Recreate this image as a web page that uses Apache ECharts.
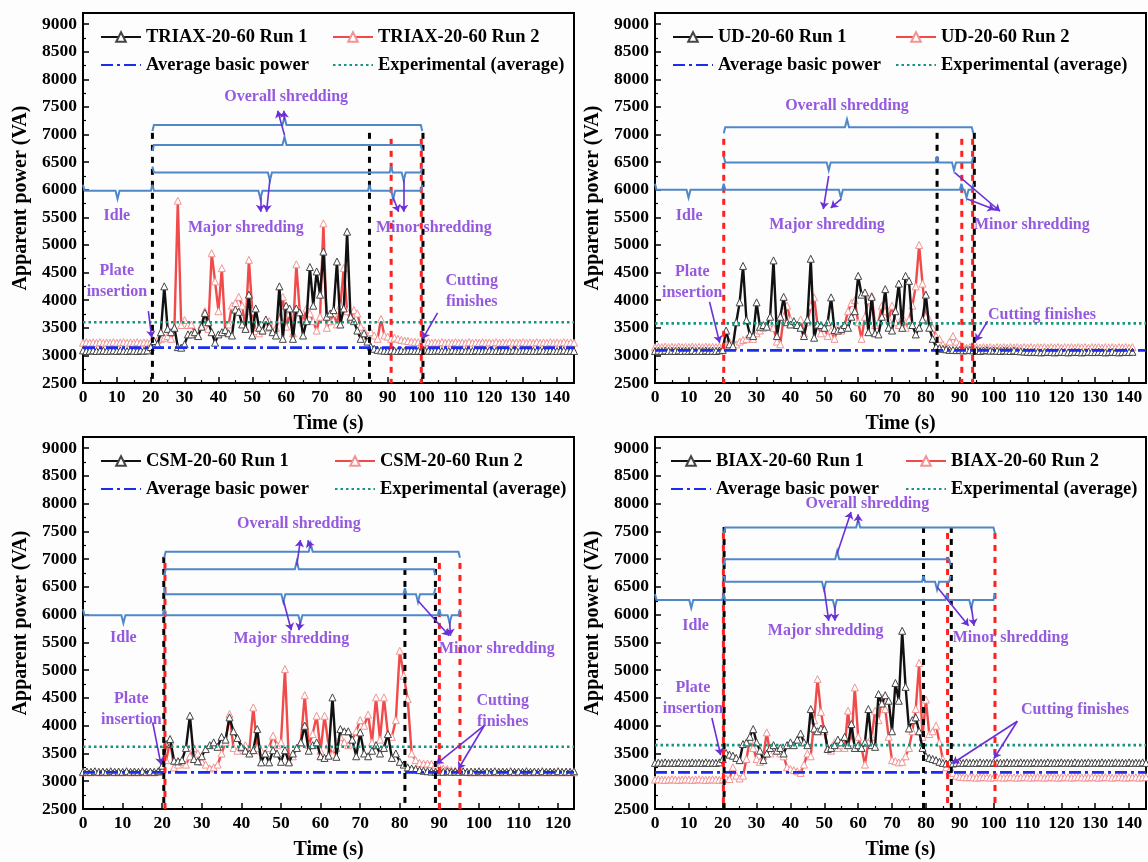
<!DOCTYPE html>
<html>
<head>
<meta charset="utf-8">
<title>Apparent power vs time</title>
<script src="https://cdn.jsdelivr.net/npm/echarts@6/dist/echarts.min.js"></script>
<style>
html, body { margin: 0; padding: 0; background: #fdfdfd; }
#chart { width: 1148px; height: 862px; }
</style>
</head>
<body>
<div id="chart"></div>
<script>
// 四个面板的测量数据（1 s 采样）
var triaxRun1 = [3090,3080,3085,3090,3080,3085,3090,3080,3085,3090,
  3080,3090,3085,3080,3090,3085,3080,3090,3085,3090,
  3150,3260,3200,3420,4250,3480,3420,3500,3150,3140,
  3200,3380,3380,3420,3350,3520,3770,3600,3420,3230,
  3380,3420,3460,3400,3360,3830,3790,3560,3480,4100,
  3360,3850,3500,3450,3650,3520,3420,3360,4250,3300,
  3900,3850,3300,3850,3780,3360,3620,4600,3900,4520,
  4100,4880,3700,3760,3820,4700,3560,3850,5240,3700,
  3620,3450,3300,3400,3250,3160,3120,3100,3090,3085,
  3080,3090,3085,3080,3090,3080,3085,3090,3080,3085,
  3080,3090,3085,3080,3085,3090,3080,3085,3080,3090,
  3085,3080,3090,3080,3085,3080,3090,3085,3080,3085,
  3090,3080,3085,3080,3090,3085,3080,3090,3085,3080,
  3085,3090,3080,3085,3080,3090,3085,3080,3090,3085,
  3080,3085,3090,3080,3085,3080];
var triaxRun2 = [3230,3240,3230,3235,3230,3240,3230,3235,3230,3240,
  3230,3235,3240,3230,3235,3230,3240,3230,3235,3230,
  3240,3260,3280,3300,3320,3350,3300,3500,5800,3550,
  3640,3550,3560,3420,3360,3550,3800,3480,4850,4340,
  3800,4580,3440,3560,3900,3950,4060,3900,3500,4730,
  3800,3440,3400,3450,3500,3620,3450,3500,3650,4060,
  3520,3760,3400,4650,3800,3600,3850,3760,3620,3450,
  3700,5390,3500,3620,3760,3560,3900,4580,3800,3650,
  3820,3760,3520,3450,3350,3420,3360,3300,3660,3360,
  3340,3300,3320,3300,3280,3270,3260,3250,3245,3240,
  3235,3230,3240,3230,3235,3230,3240,3230,3235,3230,
  3240,3230,3235,3230,3240,3230,3235,3230,3240,3230,
  3235,3230,3240,3230,3235,3230,3240,3230,3235,3230,
  3240,3230,3235,3230,3240,3230,3235,3230,3240,3230,
  3235,3230,3240,3230,3235,3230];
var udRun1 = [3080,3085,3080,3090,3080,3085,3080,3090,3080,3085,
  3080,3090,3080,3085,3080,3090,3080,3085,3080,3090,
  3100,3450,3200,3170,3600,3960,4620,3640,3380,3350,
  3960,3520,3550,3520,3700,4720,3350,3700,4060,3600,
  3560,3620,3550,3500,3350,3650,4750,3320,3560,3550,
  3500,3600,4050,3460,3450,3480,3550,3500,3700,3800,
  4440,4100,4140,3420,4060,3400,3380,3700,4200,3500,
  3450,3800,4300,3500,4440,4350,3550,3380,3500,3650,
  4100,3500,3300,3150,3130,3120,3110,3100,3100,3095,
  3100,3090,3095,3100,3090,3095,3080,3090,3095,3085,
  3090,3085,3080,3090,3085,3080,3090,3080,3075,3070,
  3065,3060,3065,3060,3055,3060,3065,3060,3055,3060,
  3065,3060,3055,3060,3065,3060,3055,3060,3065,3060,
  3060,3065,3060,3055,3060,3065,3060,3055,3060,3065,
  3060,3065];
var udRun2 = [3150,3155,3150,3160,3150,3155,3150,3160,3150,3155,
  3150,3160,3150,3155,3150,3160,3150,3155,3150,3160,
  3150,3200,3250,3150,3200,3250,3280,3300,3350,3300,
  3400,3450,3500,3550,3600,3500,3250,3200,3700,3900,
  3650,3600,3550,3650,3400,3600,3900,4050,3550,3400,
  3500,3350,3450,3300,3500,3450,3550,3800,3950,4000,
  3600,3300,3700,4000,4080,3550,3600,3900,3800,3650,
  3900,3600,3550,3700,3500,3650,3900,4250,5000,4300,
  3700,3650,3500,3350,3300,3200,3150,3250,3350,3250,
  3200,3150,3140,3150,3145,3150,3140,3150,3145,3150,
  3140,3150,3145,3150,3140,3150,3145,3150,3140,3150,
  3145,3150,3140,3150,3145,3150,3140,3150,3145,3150,
  3140,3150,3145,3150,3140,3150,3145,3150,3140,3150,
  3145,3150,3140,3150,3145,3150,3140,3150,3145,3150,
  3140,3150];
var csmRun1 = [3170,3175,3170,3180,3170,3175,3170,3180,3170,3175,
  3170,3180,3170,3175,3170,3180,3170,3175,3170,3180,
  3280,3670,3760,3370,3360,3380,3600,4180,3400,3360,
  3450,3580,3650,3700,3620,3800,3750,4150,3900,3780,
  3620,3550,3500,3560,3940,3340,3500,3340,3560,3500,
  3350,3560,3340,3500,3600,3700,4000,3550,3650,3700,
  3450,3420,3460,4510,3440,3940,3900,3900,3750,3450,
  3880,3500,3450,3550,3650,3500,3600,3850,3420,3500,
  3350,3300,3250,3230,3220,3200,3190,3180,3175,3170,
  3175,3170,3180,3170,3175,3170,3180,3170,3175,3170,
  3180,3170,3175,3170,3180,3170,3175,3170,3180,3170,
  3175,3170,3180,3170,3175,3170,3180,3170,3175,3170,
  3180,3170,3175,3170,3180];
var csmRun2 = [3160,3165,3160,3170,3160,3165,3160,3170,3160,3165,
  3160,3170,3160,3165,3160,3170,3160,3165,3160,3170,
  3200,3380,3730,3250,3300,3350,3300,3450,3600,3500,
  3350,3300,3230,3250,3300,3500,3700,4210,3600,3550,
  3600,3650,3550,4330,3600,3550,3500,3600,3820,3650,
  3700,5020,3360,3450,3600,3700,4550,3650,3850,4180,
  3550,4180,3650,3480,3600,3800,3700,3650,3750,3900,
  4100,4000,4200,3700,4510,3750,4510,3850,3800,4100,
  5350,4900,4480,3500,3380,3330,3320,3320,3310,3300,
  3250,3230,3220,3200,3190,3180,3170,3165,3160,3170,
  3160,3165,3160,3170,3160,3165,3160,3170,3160,3165,
  3160,3170,3160,3165,3160,3170,3160,3165,3160,3170,
  3160,3165,3160,3170,3160];
var biaxRun1 = [3330,3335,3330,3340,3330,3335,3330,3340,3330,3335,
  3330,3340,3330,3335,3330,3340,3330,3335,3330,3340,
  3400,3510,3480,3460,3420,3380,3670,3700,3800,3940,
  3700,3550,3380,3500,3600,3650,3550,3600,3500,3650,
  3700,3650,3750,3860,3700,3650,4300,3950,3900,3950,
  3940,3580,3600,3650,3750,3700,3800,3650,4030,3600,
  3650,3600,3700,4300,3650,3620,4570,4400,4550,4450,
  3900,4770,4450,5710,4700,3950,4100,4150,3900,3600,
  3450,3420,3400,3380,3350,3330,3320,3330,3320,3330,
  3335,3330,3340,3330,3335,3330,3340,3330,3335,3330,
  3340,3330,3335,3330,3340,3330,3335,3330,3340,3330,
  3335,3330,3340,3330,3335,3330,3340,3330,3335,3330,
  3340,3330,3335,3330,3340,3330,3335,3330,3340,3330,
  3335,3330,3340,3330,3335,3330,3340,3330,3335,3330,
  3340,3330,3335,3330,3340,3330];
var biaxRun2 = [3030,3035,3030,3025,3030,3035,3030,3025,3030,3035,
  3030,3025,3030,3035,3030,3025,3030,3035,3030,3025,
  3040,3050,3040,3250,3100,3050,3100,3400,3750,3600,
  3400,3350,3450,3880,3500,3600,3550,3500,3450,3250,
  3220,3200,3180,3150,3300,3500,3450,4100,4840,4250,
  3900,3600,3550,3700,3600,3650,3600,4270,3700,4690,
  3800,3600,3300,3700,3800,4270,4100,4500,4300,3800,
  3380,3360,3340,3350,3450,3600,3900,4300,5130,3800,
  4470,3850,3900,4000,3700,3400,3250,3200,3150,3100,
  3080,3075,3070,3075,3070,3065,3070,3075,3070,3065,
  3070,3075,3070,3065,3070,3075,3070,3065,3070,3075,
  3070,3065,3070,3075,3070,3065,3070,3075,3070,3065,
  3070,3075,3070,3065,3070,3075,3070,3065,3070,3075,
  3070,3065,3070,3075,3070,3065,3070,3075,3070,3065,
  3070,3075,3070,3065,3070,3075];

// 平均基础功率、实验平均值、坐标轴范围
var panelNames = ['TRIAX-20-60', 'UD-20-60', 'CSM-20-60', 'BIAX-20-60'];
var basicPower = [3140, 3090, 3160, 3160];
var experimentalAvg = [3600, 3580, 3620, 3650];
var xMax = [145, 145, 124, 145];
var yMin = 2500, yMax = 9200, yStep = 500, xStep = 10;

// 阶段分界竖线（虚线）
var triaxBlackCuts = [20.5, 84.6, 100.4], triaxRedCuts = [91, 99.9];
var udBlackCuts = [83.3, 94.3], udRedCuts = [20.3, 90.6, 93.8];
var csmBlackCuts = [20.4, 81.3, 89], csmRedCuts = [20.7, 90, 95.2];
var biaxBlackCuts = [20.4, 79.3, 87.5], biaxRedCuts = [20.2, 86.4, 100.4];
var cutTop = [7030, 7030, 7040, 7580];

// 括号: [起点, 终点, 高度, 中间尖角位置, 1=尖角朝下 / -1=朝上]
var triaxBraces = [[0,20.5,5980,10.2,1],[20.5,84.6,5980,52.4,1],[84.6,100.2,5980,91.6,1],
  [20.5,91,6310,55.2,1],[91,100.2,6310,94.7,1],[20.5,100.2,6810,59.5,-1],[20.5,100.2,7170,59.5,-1]];
var udBraces = [[0,20.3,6000,9.9,1],[20.3,90.5,6000,54.9,1],[90.5,94,6000,92,1],
  [20.3,83.3,6495,51.3,1],[83.3,94,6495,88.3,1],[20.3,94,7130,56.7,-1]];
var csmBraces = [[0,20.5,5990,10.2,1],[20.5,90,5990,54.9,1],[90,95.2,5990,92.6,1],
  [20.5,81.3,6370,50.6,1],[81.3,89,6370,84.6,1],[20.5,89,6820,54,-1],[20.5,95.2,7134,57.5,-1]];
var biaxBraces = [[0,20.3,6264,10.7,1],[20.3,86.2,6264,53.1,1],[86.2,100.4,6264,93.4,1],
  [20.3,79.3,6594,49.9,1],[79.3,87.3,6594,83.3,1],[20.3,87.3,7000,53.8,-1],[20.3,100.4,7570,60,-1]];

// 文字标注 [x, y, 文字]
var triaxLabels = [[60,7690,'Overall shredding'],[48.1,5308,'Major shredding'],[103.6,5308,'Minor shredding'],
  [10,5520,'Idle'],[10,4340,'Plate\ninsertion'],[114.8,4160,'Cutting\nfinishes']];
var udLabels = [[56.7,7510,'Overall shredding'],[50.8,5368,'Major shredding'],[111.3,5368,'Minor shredding'],
  [10.1,5530,'Idle'],[11,4330,'Plate\ninsertion'],[114.3,3740,'Cutting finishes']];
var csmLabels = [[54.5,7633,'Overall shredding'],[52.6,5560,'Major shredding'],[104.5,5380,'Minor shredding'],
  [10.2,5590,'Idle'],[12.2,4300,'Plate\ninsertion'],[106,4260,'Cutting\nfinishes']];
var biaxLabels = [[62.7,8000,'Overall shredding'],[50.4,5700,'Major shredding'],[105,5580,'Minor shredding'],
  [12,5800,'Idle'],[11.2,4490,'Plate\ninsertion'],[124,4290,'Cutting finishes']];

// 箭头 [x1, y1, x2, y2]
var triaxArrows = [[59.5,6990,57.5,7430],[59.5,7260,59.3,7430],[52.4,5860,52.4,5600],[55.2,6190,54.2,5600],
  [91.6,5860,93.2,5600],[94.7,6190,94.7,5600],[19.3,3800,20.3,3320],[104.7,3770,100.3,3300]];
var udArrows = [[51.3,6250,49.7,5650],[54.9,5830,51.9,5670],[88.5,6310,101.9,5610],[92.2,5830,100.3,5640],
  [16.1,3970,19.1,3230],[98.2,3620,94.7,3260]];
var csmArrows = [[54,6890,54.9,7345],[57.5,7200,56.8,7340],[50.6,6260,52.6,5720],[54.9,5880,54.5,5720],
  [84.6,6250,92.5,5620],[92.6,5880,92.8,5620],[17.6,4060,19.7,3300],[101.3,4000,89.2,3310],[101.3,4000,94.8,3220]];
var biaxArrows = [[53.8,7100,57.9,7850],[60,7650,60,7810],[49.9,6500,51.3,5890],[53.1,6160,53.1,5890],
  [83.3,6500,92.6,5800],[93.4,6160,94.2,5800],[16.8,4140,19.4,3470],[107,4080,87.8,3320],[107,4080,100.1,3410]];

var runs = [[triaxRun1, triaxRun2], [udRun1, udRun2], [csmRun1, csmRun2], [biaxRun1, biaxRun2]];
var cuts = [[triaxBlackCuts, triaxRedCuts], [udBlackCuts, udRedCuts], [csmBlackCuts, csmRedCuts], [biaxBlackCuts, biaxRedCuts]];
var braces = [triaxBraces, udBraces, csmBraces, biaxBraces];
var labels = [triaxLabels, udLabels, csmLabels, biaxLabels];
var arrows = [triaxArrows, udArrows, csmArrows, biaxArrows];

// 布局
var layout = [
  {left: 83, top: 13, width: 491, height: 370, cols: [17, 249]},
  {left: 655, top: 13, width: 491, height: 370, cols: [17, 240]},
  {left: 83, top: 437, width: 491, height: 372, cols: [17, 251]},
  {left: 655, top: 437, width: 491, height: 372, cols: [15, 250]}
];

var FONT = "'Liberation Serif', 'DejaVu Serif', serif";
var PURPLE = '#7a2fd8';

function braceItem(params, api) {
  var y = api.value(2);
  var a = api.coord([api.value(0), y]);
  var b = api.coord([api.value(1), y]);
  var n = api.coord([api.value(3), y]);
  var s = api.value(4);
  var hook = -6 * s, nub = 8 * s;
  return {
    type: 'polyline',
    shape: {points: [[a[0], a[1] + hook], [a[0] + 1.5, a[1]], [n[0] - 2, a[1]], [n[0], a[1] + nub],
      [n[0] + 2, a[1]], [b[0] - 1.5, b[1]], [b[0], b[1] + hook]]},
    style: {fill: null, stroke: '#4f87c9', lineWidth: 2}
  };
}

function cutItem(color, offset) {
  return function (params, api) {
    var top = api.coord([api.value(0), api.value(1)]);
    var bottom = api.coord([api.value(0), yMin]);
    return {
      type: 'line',
      shape: {x1: top[0], y1: top[1], x2: bottom[0], y2: bottom[1]},
      style: {stroke: color, lineWidth: 3, lineDash: [6, 6], lineDashOffset: offset}
    };
  };
}

function plainNumber(v) { return String(v); }

var option = {
  backgroundColor: '#fdfdfd',
  animation: false,
  grid: [], xAxis: [], yAxis: [], legend: [], series: []
};

for (var i = 0; i < 4; i++) {
  var L = layout[i];
  var run1Name = panelNames[i] + ' Run 1', run2Name = panelNames[i] + ' Run 2';
  option.grid.push({left: L.left, top: L.top, width: L.width, height: L.height,
    show: true, borderColor: '#000', borderWidth: 2, backgroundColor: 'transparent'});
  option.xAxis.push({
    type: 'value', gridIndex: i, min: 0, max: xMax[i], interval: xStep,
    name: 'Time (s)', nameLocation: 'middle', nameGap: 31,
    nameTextStyle: {fontFamily: FONT, fontWeight: 'bold', fontSize: 20, color: '#000'},
    axisLine: {onZero: false, lineStyle: {color: '#000', width: 2}},
    axisTick: {inside: true, length: 6, lineStyle: {color: '#000', width: 1.5}},
    minorTick: {show: true, splitNumber: 2, length: 3, lineStyle: {color: '#000', width: 1.2}},
    splitLine: {show: false},
    axisLabel: {fontFamily: FONT, fontWeight: 'bold', fontSize: 17.5, color: '#000', margin: 5,
      showMaxLabel: false, formatter: plainNumber}
  });
  option.yAxis.push({
    type: 'value', gridIndex: i, min: yMin, max: yMax, interval: yStep,
    name: 'Apparent power (VA)', nameLocation: 'middle', nameGap: 52,
    nameTextStyle: {fontFamily: FONT, fontWeight: 'bold', fontSize: 20, color: '#000'},
    axisLine: {lineStyle: {color: '#000', width: 2}},
    axisTick: {inside: true, length: 6, lineStyle: {color: '#000', width: 1.5}},
    minorTick: {show: true, splitNumber: 2, length: 3, lineStyle: {color: '#000', width: 1.2}},
    splitLine: {show: false},
    axisLabel: {fontFamily: FONT, fontWeight: 'bold', fontSize: 17.5, color: '#000', margin: 6,
      showMaxLabel: false, formatter: plainNumber}
  });

  var legendBase = {
    orient: 'vertical', top: L.top + 14, itemWidth: 40, itemHeight: 12, itemGap: 8, padding: 0,
    selectedMode: false,
    textStyle: {fontFamily: FONT, fontWeight: 'bold', fontSize: 18.5, color: '#000', lineHeight: 20}
  };
  option.legend.push(Object.assign({}, legendBase, {left: L.left + L.cols[0],
    data: [run1Name, {name: 'Average basic power', itemStyle: {opacity: 0}}]}));
  option.legend.push(Object.assign({}, legendBase, {left: L.left + L.cols[1],
    data: [run2Name, {name: 'Experimental (average)', itemStyle: {opacity: 0}}]}));

  var toXY = function (v, t) { return [t, v]; };

  option.series.push({
    name: run2Name, type: 'line', xAxisIndex: i, yAxisIndex: i, z: 3,
    data: runs[i][1].map(toXY), symbol: 'triangle', symbolSize: 7, showAllSymbol: true,
    lineStyle: {color: '#f14a4a', width: 2.4},
    itemStyle: {color: '#fff', borderColor: '#f39494', borderWidth: 1}
  });
  option.series.push({
    name: run1Name, type: 'line', xAxisIndex: i, yAxisIndex: i, z: 4,
    data: runs[i][0].map(toXY), symbol: 'triangle', symbolSize: 7, showAllSymbol: true,
    lineStyle: {color: '#111', width: 2.4},
    itemStyle: {color: '#fff', borderColor: '#444', borderWidth: 1}
  });
  option.series.push({
    name: 'Average basic power', type: 'line', xAxisIndex: i, yAxisIndex: i, z: 5,
    data: [[0, basicPower[i]], [xMax[i], basicPower[i]]], symbol: 'none',
    lineStyle: {color: '#1c2ee8', width: 2.6, type: [12, 4, 3, 4]}
  });
  option.series.push({
    name: 'Experimental (average)', type: 'line', xAxisIndex: i, yAxisIndex: i, z: 5,
    data: [[0, experimentalAvg[i]], [xMax[i], experimentalAvg[i]]], symbol: 'none',
    lineStyle: {color: '#15947f', width: 2.6, type: [2.5, 3]}
  });
  option.series.push({
    type: 'custom', xAxisIndex: i, yAxisIndex: i, z: 7, silent: true,
    data: cuts[i][1].map(function (x) { return [x, cutTop[i]]; }),
    encode: {x: 0, y: 1}, renderItem: cutItem('#ff1f1f', 6)
  });
  option.series.push({
    type: 'custom', xAxisIndex: i, yAxisIndex: i, z: 8, silent: true,
    data: cuts[i][0].map(function (x) { return [x, cutTop[i]]; }),
    encode: {x: 0, y: 1}, renderItem: cutItem('#000', 0)
  });
  option.series.push({
    type: 'custom', xAxisIndex: i, yAxisIndex: i, z: 9, silent: true,
    data: braces[i], encode: {x: [0, 1, 3], y: 2}, renderItem: braceItem
  });
  option.series.push({
    type: 'lines', coordinateSystem: 'cartesian2d', xAxisIndex: i, yAxisIndex: i, z: 10, silent: true,
    data: arrows[i].map(function (a) { return {coords: [[a[0], a[1]], [a[2], a[3]]]}; }),
    symbol: ['none', 'arrow'], symbolSize: 7,
    lineStyle: {color: '#6a2fd6', width: 1.6, opacity: 1, curveness: 0}
  });
  option.series.push({
    type: 'scatter', xAxisIndex: i, yAxisIndex: i, z: 11, silent: true,
    data: labels[i].map(function (l) { return {value: [l[0], l[1]], name: l[2]}; }),
    symbolSize: 1, itemStyle: {color: 'transparent'},
    label: {show: true, position: 'inside', formatter: '{b}', color: PURPLE,
      fontFamily: FONT, fontWeight: 'bold', fontSize: 16, lineHeight: 21, align: 'center'}
  });
}

var chart = echarts.init(document.getElementById('chart'));
chart.setOption(option);
</script>
</body>
</html>
